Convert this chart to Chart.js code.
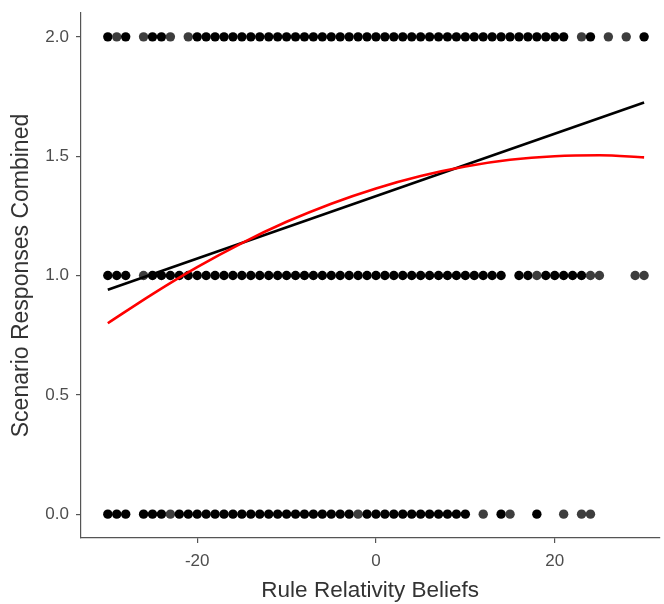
<!DOCTYPE html>
<html><head><meta charset="utf-8">
<script src="https://cdn.jsdelivr.net/npm/chart.js@4"></script>
<style>html,body{margin:0;padding:0;background:#fff;overflow:hidden;}#wrap{width:664px;height:604px;}</style>
</head><body><div id="wrap"><canvas id="c" width="664" height="604"></canvas></div>
<script>
// Observed x values (Rule Relativity Beliefs) at each response level
const row2X = [-30,-29,-28,-26,-25,-24,-23,-21,-20,-19,-18,-17,-16,-15,-14,-13,-12,-11,-10,-9,-8,-7,-6,-5,-4,-3,-2,-1,0,1,2,3,4,5,6,7,8,9,10,11,12,13,14,15,16,17,18,19,20,21,23,24,26,28,30];
const row2Single = [-29,-26,-23,-21,23,26,28];
const row1X = [-30,-29,-28,-26,-25,-24,-23,-22,-21,-20,-19,-18,-17,-16,-15,-14,-13,-12,-11,-10,-9,-8,-7,-6,-5,-4,-3,-2,-1,0,1,2,3,4,5,6,7,8,9,10,11,12,13,14,16,17,18,19,20,21,22,23,24,25,29,30];
const row1Single = [-26,18,24,25,29,30];
const row0X = [-30,-29,-28,-26,-25,-24,-23,-22,-21,-20,-19,-18,-17,-16,-15,-14,-13,-12,-11,-10,-9,-8,-7,-6,-5,-4,-3,-2,-1,0,1,2,3,4,5,6,7,8,9,10,12,14,15,18,21,23,24];
const row0Single = [-23,-2,12,15,21,23,24];

// Linear fit (black), read at the ends
const linX = [-30, 30];
const linY = [0.94, 1.725];
// Quadratic fit (red)
const quadX = [-30,-25,-20,-15,-10,-5,0,5,10,15,20,25,30];
const quadY = [0.80,0.922,1.035,1.136,1.225,1.301,1.365,1.417,1.457,1.485,1.500,1.504,1.495];

const xTicks = [-20, 0, 20];
const yTicks = [0, 0.5, 1.0, 1.5, 2.0];

function pts(xs, y){ return xs.map(x => ({x:x, y:y})); }
function cols(xs, singles){ return xs.map(x => singles.includes(x) ? '#3d3d3d' : '#000000'); }

const FONT = '"Liberation Sans", Arial, Helvetica, sans-serif';
const dotStyle = {type:'scatter', pointRadius:4.7, pointHoverRadius:4.7, pointBorderWidth:0, showLine:false, order:2};

new Chart(document.getElementById('c'), {
  data: {
    datasets: [
      Object.assign({data: pts(row2X, 2), pointBackgroundColor: cols(row2X, row2Single)}, dotStyle),
      Object.assign({data: pts(row1X, 1), pointBackgroundColor: cols(row1X, row1Single)}, dotStyle),
      Object.assign({data: pts(row0X, 0), pointBackgroundColor: cols(row0X, row0Single)}, dotStyle),
      {type:'line', data: linX.map((x,i)=>({x:x,y:linY[i]})), borderColor:'#000', borderWidth:2.6, pointRadius:0, tension:0, order:1},
      {type:'line', data: quadX.map((x,i)=>({x:x,y:quadY[i]})), borderColor:'#ff0000', borderWidth:2.6, pointRadius:0, cubicInterpolationMode:'monotone', order:0}
    ]
  },
  options: {
    responsive:false, animation:false,
    layout:{padding:{top:13, left:0, right:0, bottom:0}},
    plugins:{legend:{display:false}, tooltip:{enabled:false}},
    scales:{
      x:{type:'linear', min:-33, max:31.7,
        afterBuildTicks:s=>{s.ticks = xTicks.map(v=>({value:v}));},
        afterFit:s=>{s.height = 66; s.paddingLeft = 0; s.paddingRight = 0;},
        grid:{drawOnChartArea:false, drawTicks:true, tickLength:5, color:'#555', lineWidth:1.2},
        border:{color:'#555', width:1.2},
        ticks:{color:'#4d4d4d', font:{family:FONT, size:17}, padding:8, maxRotation:0},
        title:{display:true, text:'Rule Relativity Beliefs', color:'#333', font:{family:FONT, size:22.5}, padding:{top:2, bottom:0}}
      },
      y:{type:'linear', min:-0.1, max:2.1,
        afterBuildTicks:s=>{s.ticks = yTicks.map(v=>({value:v}));},
        afterFit:s=>{s.width = 81; s.paddingTop = 0; s.paddingBottom = 0;},
        grid:{drawOnChartArea:false, drawTicks:true, tickLength:5, color:'#555', lineWidth:1.2},
        border:{color:'#555', width:1.2},
        ticks:{color:'#4d4d4d', font:{family:FONT, size:17}, padding:7, callback:v=>v.toFixed(1)},
        title:{display:true, text:'Scenario Responses Combined', color:'#333', font:{family:FONT, size:23}, padding:{top:8, bottom:0}}
      }
    }
  }
});
</script></body></html>
